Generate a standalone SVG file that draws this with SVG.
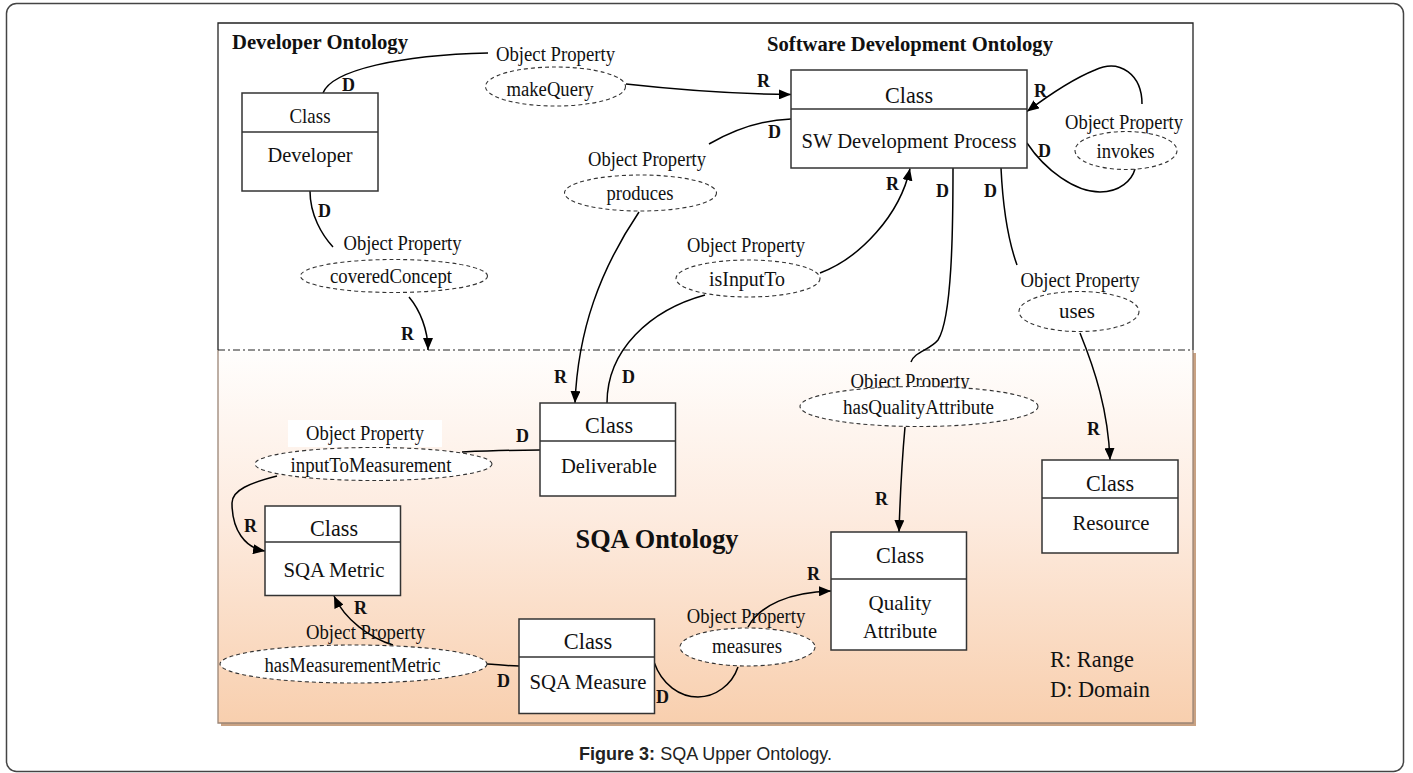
<svg xmlns="http://www.w3.org/2000/svg" width="1413" height="773" viewBox="0 0 1413 773">
  <defs>
    <linearGradient id="sqaFill" x1="0" y1="0" x2="0" y2="1">
      <stop offset="0" stop-color="#fffefd"/>
      <stop offset="0.45" stop-color="#fdebdf"/>
      <stop offset="1" stop-color="#f8cfae"/>
    </linearGradient>
    <marker id="arrow" markerUnits="userSpaceOnUse" markerWidth="13" markerHeight="10" refX="12" refY="5" orient="auto">
      <path d="M0,0 L12,5 L0,10 z" fill="#000"/>
    </marker>
    <style>
      .box { fill: #fff; stroke: #333; stroke-width: 1.5; }
      .div { stroke: #333; stroke-width: 1.5; }
      .prop { fill: #fff; stroke: #333; stroke-width: 1.1; stroke-dasharray: 4 3; }
      .conn { fill: none; stroke: #000; stroke-width: 1.5; }
      .arr { marker-end: url(#arrow); }
      .serif { font-family: "Liberation Serif", "Times New Roman", serif; fill: #111; }
      .cls { font-size: 23px; text-anchor: middle; }
      .cls-sm { font-size: 21px; text-anchor: middle; }
      .nm { font-size: 22px; text-anchor: middle; }
      .op { font-size: 21px; text-anchor: middle; }
      .pn { font-size: 20px; text-anchor: middle; }
      .rd { font-size: 18px; font-weight: bold; }
      .title { font-size: 20.5px; font-weight: bold; }
      .big { font-size: 28px; font-weight: bold; text-anchor: middle; }
      .legend { font-size: 23px; }
      .caption { font-family: "Liberation Sans", Arial, sans-serif; font-size: 18px; text-anchor: middle; fill: #222; }
    </style>
  </defs>

  <!-- outer figure frame -->
  <rect x="6.5" y="3.5" width="1397" height="768" rx="10" fill="#fff" stroke="#444" stroke-width="1.5"/>

  <!-- SQA ontology area: shadow, gradient body, borders -->
  <rect x="221" y="353" width="975" height="373" fill="#c9a283"/>
  <rect x="218" y="350" width="975" height="373" fill="url(#sqaFill)"/>
  <path d="M218,350 V723 H1193 V350" fill="none" stroke="#9a8576" stroke-width="1.3"/>
  <!-- upper ontologies area -->
  <rect x="218" y="23" width="975" height="327" fill="#fff"/>
  <path d="M218,350 V23 H1193 V350" fill="none" stroke="#222" stroke-width="1.3"/>
  <line x1="218" y1="350" x2="1193" y2="350" stroke="#222" stroke-width="1" stroke-dasharray="7 3 2 3"/>

  <!-- area titles -->
  <g class="serif">
    <text class="title" x="232" y="49" textLength="176" lengthAdjust="spacingAndGlyphs">Developer Ontology</text>
    <text class="title" x="767" y="51" textLength="286" lengthAdjust="spacingAndGlyphs">Software Development Ontology</text>
    <text class="big" x="657" y="548" textLength="163" lengthAdjust="spacingAndGlyphs">SQA Ontology</text>
  </g>

  <!-- connectors -->
  <g id="connectors">
    <path class="conn" d="M323,93 C332,70 400,55 488,53"/>
    <path class="conn arr" d="M626,84 C680,90 730,94 791,94.5"/>
    <path class="conn" d="M791,119 C760,120 730,132 709,144"/>
    <path class="conn arr" d="M639,212 C600,270 578,330 575,403"/>
    <path class="conn arr" d="M820,273 C860,258 900,215 910,168.5"/>
    <path class="conn" d="M705,295 C650,310 607,350 607,403"/>
    <path class="conn arr" d="M1142,104 C1142,75 1120,58 1095,70 C1070,80 1045,98 1027,111.5"/>
    <path class="conn" d="M1027,143 C1045,170 1075,192 1100,192 C1120,192 1132,180 1135,169"/>
    <path class="conn" d="M953,168 C953,230 952,318 938,340 C930,350 914,352 911,362"/>
    <path class="conn arr" d="M905,427 C902,460 900,500 899,532"/>
    <path class="conn" d="M1001,168 C1003,210 1008,240 1017,265"/>
    <path class="conn arr" d="M1080,333 C1095,370 1108,410 1110,460"/>
    <path class="conn" d="M310,191 C310,215 322,235 333,247"/>
    <path class="conn arr" d="M409,297 C420,310 428,330 428,350"/>
    <path class="conn" d="M540,450 C510,450 485,451 462,452"/>
    <path class="conn arr" d="M277,476 C250,483 232,490 232,503 C232,530 245,548 265,551"/>
    <path class="conn" d="M519,666 C505,666 495,664 487,664"/>
    <path class="conn arr" d="M393,645 C370,638 345,620 334,596"/>
    <path class="conn arr" d="M748,627 C760,605 790,592 831,591"/>
    <path class="conn" d="M654,662 C662,685 680,697 698,697 C715,697 732,685 738,667"/>
  </g>

  <!-- range / domain end labels -->
  <g id="end-labels" class="serif">
    <text class="rd" x="342" y="91">D</text>
    <text class="rd" x="757" y="87">R</text>
    <text class="rd" x="768" y="138">D</text>
    <text class="rd" x="886" y="190">R</text>
    <text class="rd" x="936" y="197">D</text>
    <text class="rd" x="984" y="197">D</text>
    <text class="rd" x="1034" y="97">R</text>
    <text class="rd" x="1038" y="157">D</text>
    <text class="rd" x="318" y="217">D</text>
    <text class="rd" x="401" y="340">R</text>
    <text class="rd" x="554" y="383">R</text>
    <text class="rd" x="622" y="383">D</text>
    <text class="rd" x="516" y="442">D</text>
    <text class="rd" x="244" y="532">R</text>
    <text class="rd" x="875" y="505">R</text>
    <text class="rd" x="1087" y="435">R</text>
    <text class="rd" x="807" y="580">R</text>
    <text class="rd" x="354" y="614">R</text>
    <text class="rd" x="497" y="687">D</text>
    <text class="rd" x="656" y="703">D</text>
  </g>

  <!-- classes -->
  <g id="class-developer" class="serif">
    <rect class="box" x="242" y="93" width="136" height="98"/>
    <line class="div" x1="242" y1="132" x2="378" y2="132"/>
    <text class="cls-sm" x="310" y="123" textLength="41" lengthAdjust="spacingAndGlyphs">Class</text>
    <text class="nm" x="310" y="162" textLength="85" lengthAdjust="spacingAndGlyphs">Developer</text>
  </g>
  <g id="class-sw-development-process" class="serif">
    <rect class="box" x="791" y="70" width="236" height="98"/>
    <line class="div" x1="791" y1="109" x2="1027" y2="109"/>
    <text class="cls" x="909" y="103" textLength="48" lengthAdjust="spacingAndGlyphs">Class</text>
    <text class="nm" x="909" y="148" textLength="215" lengthAdjust="spacingAndGlyphs">SW Development Process</text>
  </g>
  <g id="class-deliverable" class="serif">
    <rect class="box" x="540" y="403" width="135.5" height="93"/>
    <line class="div" x1="540" y1="441" x2="675.5" y2="441"/>
    <text class="cls" x="609" y="433" textLength="48" lengthAdjust="spacingAndGlyphs">Class</text>
    <text class="nm" x="609" y="473" textLength="96" lengthAdjust="spacingAndGlyphs">Deliverable</text>
  </g>
  <g id="class-sqa-metric" class="serif">
    <rect class="box" x="265" y="506" width="135.5" height="89.5"/>
    <line class="div" x1="265" y1="542" x2="400.5" y2="542"/>
    <text class="cls" x="334" y="536" textLength="48" lengthAdjust="spacingAndGlyphs">Class</text>
    <text class="nm" x="334" y="577" textLength="101" lengthAdjust="spacingAndGlyphs">SQA Metric</text>
  </g>
  <g id="class-sqa-measure" class="serif">
    <rect class="box" x="519" y="619" width="135.5" height="94.5"/>
    <line class="div" x1="519" y1="657" x2="654.5" y2="657"/>
    <text class="cls" x="588" y="649" textLength="48.5" lengthAdjust="spacingAndGlyphs">Class</text>
    <text class="nm" x="588" y="689" textLength="117" lengthAdjust="spacingAndGlyphs">SQA Measure</text>
  </g>
  <g id="class-quality-attribute" class="serif">
    <rect class="box" x="831" y="532" width="135.5" height="118"/>
    <line class="div" x1="831" y1="579" x2="966.5" y2="579"/>
    <text class="cls" x="900" y="563" textLength="48" lengthAdjust="spacingAndGlyphs">Class</text>
    <text class="nm" x="900" y="610" textLength="63" lengthAdjust="spacingAndGlyphs">Quality</text>
    <text class="nm" x="900" y="638" textLength="74" lengthAdjust="spacingAndGlyphs">Attribute</text>
  </g>
  <g id="class-resource" class="serif">
    <rect class="box" x="1042" y="460" width="136" height="93"/>
    <line class="div" x1="1042" y1="498" x2="1178" y2="498"/>
    <text class="cls" x="1110" y="491" textLength="48" lengthAdjust="spacingAndGlyphs">Class</text>
    <text class="nm" x="1111" y="530" textLength="77" lengthAdjust="spacingAndGlyphs">Resource</text>
  </g>

  <!-- object properties -->
  <g id="prop-makeQuery" class="serif">
    <text class="op" x="555.5" y="60.5" textLength="119" lengthAdjust="spacingAndGlyphs">Object Property</text>
    <ellipse class="prop" cx="555.5" cy="86.5" rx="70" ry="19.5"/>
    <text class="pn" x="550" y="96" textLength="87" lengthAdjust="spacingAndGlyphs">makeQuery</text>
  </g>
  <g id="prop-produces" class="serif">
    <text class="op" x="647" y="165.5" textLength="118" lengthAdjust="spacingAndGlyphs">Object Property</text>
    <ellipse class="prop" cx="640.5" cy="193" rx="76" ry="18"/>
    <text class="pn" x="640" y="199.5" textLength="67" lengthAdjust="spacingAndGlyphs">produces</text>
  </g>
  <g id="prop-isInputTo" class="serif">
    <text class="op" x="746" y="251.5" textLength="118" lengthAdjust="spacingAndGlyphs">Object Property</text>
    <ellipse class="prop" cx="748" cy="278.5" rx="72" ry="18.5"/>
    <text class="pn" x="747" y="285.5" textLength="76" lengthAdjust="spacingAndGlyphs">isInputTo</text>
  </g>
  <g id="prop-invokes" class="serif">
    <text class="op" x="1124" y="128.5" textLength="118" lengthAdjust="spacingAndGlyphs">Object Property</text>
    <ellipse class="prop" cx="1126" cy="150.5" rx="51" ry="19"/>
    <text class="pn" x="1125.5" y="158" textLength="58" lengthAdjust="spacingAndGlyphs">invokes</text>
  </g>
  <g id="prop-uses" class="serif">
    <text class="op" x="1080" y="287" textLength="119" lengthAdjust="spacingAndGlyphs">Object Property</text>
    <ellipse class="prop" cx="1079" cy="311.5" rx="60" ry="20"/>
    <text class="pn" x="1077" y="318" textLength="36" lengthAdjust="spacingAndGlyphs">uses</text>
  </g>
  <g id="prop-coveredConcept" class="serif">
    <text class="op" x="402.5" y="250" textLength="118" lengthAdjust="spacingAndGlyphs">Object Property</text>
    <ellipse class="prop" cx="394" cy="276" rx="93.5" ry="16.5"/>
    <text class="pn" x="391" y="283" textLength="122" lengthAdjust="spacingAndGlyphs">coveredConcept</text>
  </g>
  <g id="prop-hasQualityAttribute" class="serif">
    <text class="op" x="910" y="388" textLength="119" lengthAdjust="spacingAndGlyphs">Object Property</text>
    <ellipse class="prop" cx="919" cy="406.5" rx="119" ry="20"/>
    <text class="pn" x="918.5" y="414" textLength="151" lengthAdjust="spacingAndGlyphs">hasQualityAttribute</text>
  </g>
  <g id="prop-inputToMeasurement" class="serif">
    <rect x="288" y="420" width="154" height="27" fill="#fff"/>
    <text class="op" x="365" y="440" textLength="118" lengthAdjust="spacingAndGlyphs">Object Property</text>
    <ellipse class="prop" cx="373.5" cy="464" rx="118.5" ry="16.5"/>
    <text class="pn" x="371" y="471.5" textLength="161" lengthAdjust="spacingAndGlyphs">inputToMeasurement</text>
  </g>
  <g id="prop-hasMeasurementMetric" class="serif">
    <text class="op" x="365.5" y="638.5" textLength="119" lengthAdjust="spacingAndGlyphs">Object Property</text>
    <ellipse class="prop" cx="353.5" cy="664" rx="133.5" ry="19"/>
    <text class="pn" x="352.5" y="671.5" textLength="176" lengthAdjust="spacingAndGlyphs">hasMeasurementMetric</text>
  </g>
  <g id="prop-measures" class="serif">
    <text class="op" x="746" y="623" textLength="118.5" lengthAdjust="spacingAndGlyphs">Object Property</text>
    <ellipse class="prop" cx="747.5" cy="647" rx="67.5" ry="19"/>
    <text class="pn" x="747" y="653" textLength="70" lengthAdjust="spacingAndGlyphs">measures</text>
  </g>

  <!-- legend -->
  <g id="legend" class="serif">
    <text class="legend" x="1050" y="667" textLength="84" lengthAdjust="spacingAndGlyphs">R: Range</text>
    <text class="legend" x="1050" y="697" textLength="100" lengthAdjust="spacingAndGlyphs">D: Domain</text>
  </g>

  <!-- caption -->
  <text class="caption" x="705.5" y="760"><tspan font-weight="bold">Figure 3:</tspan> SQA Upper Ontology.</text>
</svg>
